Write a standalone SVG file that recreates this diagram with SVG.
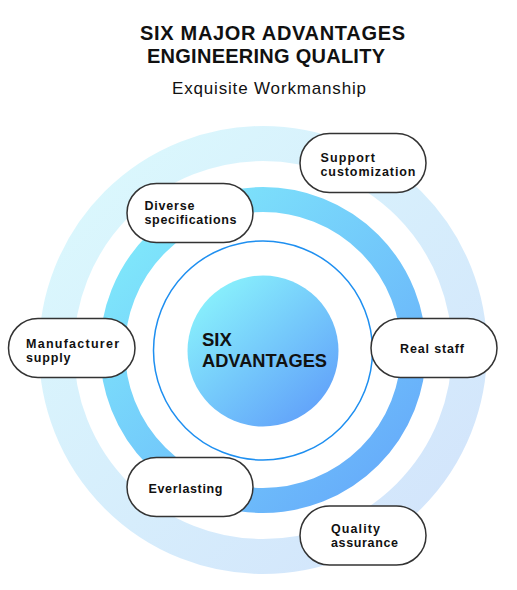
<svg xmlns="http://www.w3.org/2000/svg" width="517" height="590" viewBox="0 0 517 590">
<defs>
<linearGradient id="gOuter" x1="0" y1="0" x2="1" y2="1">
<stop offset="0" stop-color="#dbf9fd"/>
<stop offset="1" stop-color="#d2e3fb"/>
</linearGradient>
<linearGradient id="gMid" x1="0" y1="0" x2="1" y2="1">
<stop offset="0" stop-color="#82eefb"/>
<stop offset="1" stop-color="#64a6fa"/>
</linearGradient>
<linearGradient id="gCore" x1="0.15" y1="0.1" x2="0.85" y2="0.9">
<stop offset="0" stop-color="#88f0fc"/>
<stop offset="1" stop-color="#62a3fa"/>
</linearGradient>
</defs>
<style>
.t{font-family:"Liberation Sans",Arial,sans-serif;fill:#111;}
.b{font-weight:bold;}
.pill{fill:#fff;stroke:#333;stroke-width:1.5;}
.lbl{font-family:"Liberation Sans",Arial,sans-serif;font-weight:bold;font-size:12.5px;fill:#111;}
</style>
<rect width="517" height="590" fill="#fff"/>
<g id="title">
<text class="t b" x="140" y="39.5" font-size="20" textLength="265" lengthAdjust="spacing">SIX MAJOR ADVANTAGES</text>
<text class="t b" x="147" y="62.5" font-size="20" textLength="238" lengthAdjust="spacing">ENGINEERING QUALITY</text>
<text class="t" x="172" y="93.5" font-size="17" textLength="194" lengthAdjust="spacing">Exquisite Workmanship</text>
</g>
<g id="rings">
<circle cx="263" cy="350" r="206.5" fill="none" stroke="url(#gOuter)" stroke-width="35"/>
<circle cx="263" cy="350" r="150.5" fill="none" stroke="url(#gMid)" stroke-width="25"/>
<circle cx="263" cy="350.5" r="109.5" fill="none" stroke="#1e8ff0" stroke-width="1.5"/>
</g>
<g id="core">
<circle cx="263" cy="351" r="75.5" fill="url(#gCore)"/>
<text class="t b" x="202" y="345.5" font-size="18.5">SIX</text>
<text class="t b" x="202" y="366.5" font-size="18.5" textLength="125" lengthAdjust="spacingAndGlyphs">ADVANTAGES</text>
</g>
<g id="connectors"></g>
<g id="support-customization">
<rect class="pill" x="300" y="133.5" width="126" height="59" rx="29.5"/>
<text class="lbl" x="320.5" y="162" textLength="54.5" lengthAdjust="spacing">Support</text>
<text class="lbl" x="320.5" y="176" textLength="95" lengthAdjust="spacing">customization</text>
</g>
<g id="diverse-specifications">
<rect class="pill" x="127" y="183.5" width="126" height="59" rx="29.5"/>
<text class="lbl" x="144.5" y="210" textLength="50" lengthAdjust="spacing">Diverse</text>
<text class="lbl" x="144.5" y="224" textLength="92" lengthAdjust="spacing">specifications</text>
</g>
<g id="manufacturer-supply">
<rect class="pill" x="8.5" y="318.5" width="126.5" height="59" rx="29.5"/>
<text class="lbl" x="26" y="348" textLength="93" lengthAdjust="spacing">Manufacturer</text>
<text class="lbl" x="26" y="362" textLength="44.5" lengthAdjust="spacing">supply</text>
</g>
<g id="real-staff">
<rect class="pill" x="371" y="318.5" width="126" height="59" rx="29.5"/>
<text class="lbl" x="400" y="352.5" textLength="64" lengthAdjust="spacing">Real staff</text>
</g>
<g id="everlasting">
<rect class="pill" x="127" y="457.5" width="126" height="59" rx="29.5"/>
<text class="lbl" x="148.5" y="493" textLength="74" lengthAdjust="spacing">Everlasting</text>
</g>
<g id="quality-assurance">
<rect class="pill" x="300" y="506" width="126" height="59" rx="29.5"/>
<text class="lbl" x="331" y="532.5" textLength="49" lengthAdjust="spacing">Quality</text>
<text class="lbl" x="331" y="546.5" textLength="67" lengthAdjust="spacing">assurance</text>
</g>
</svg>
